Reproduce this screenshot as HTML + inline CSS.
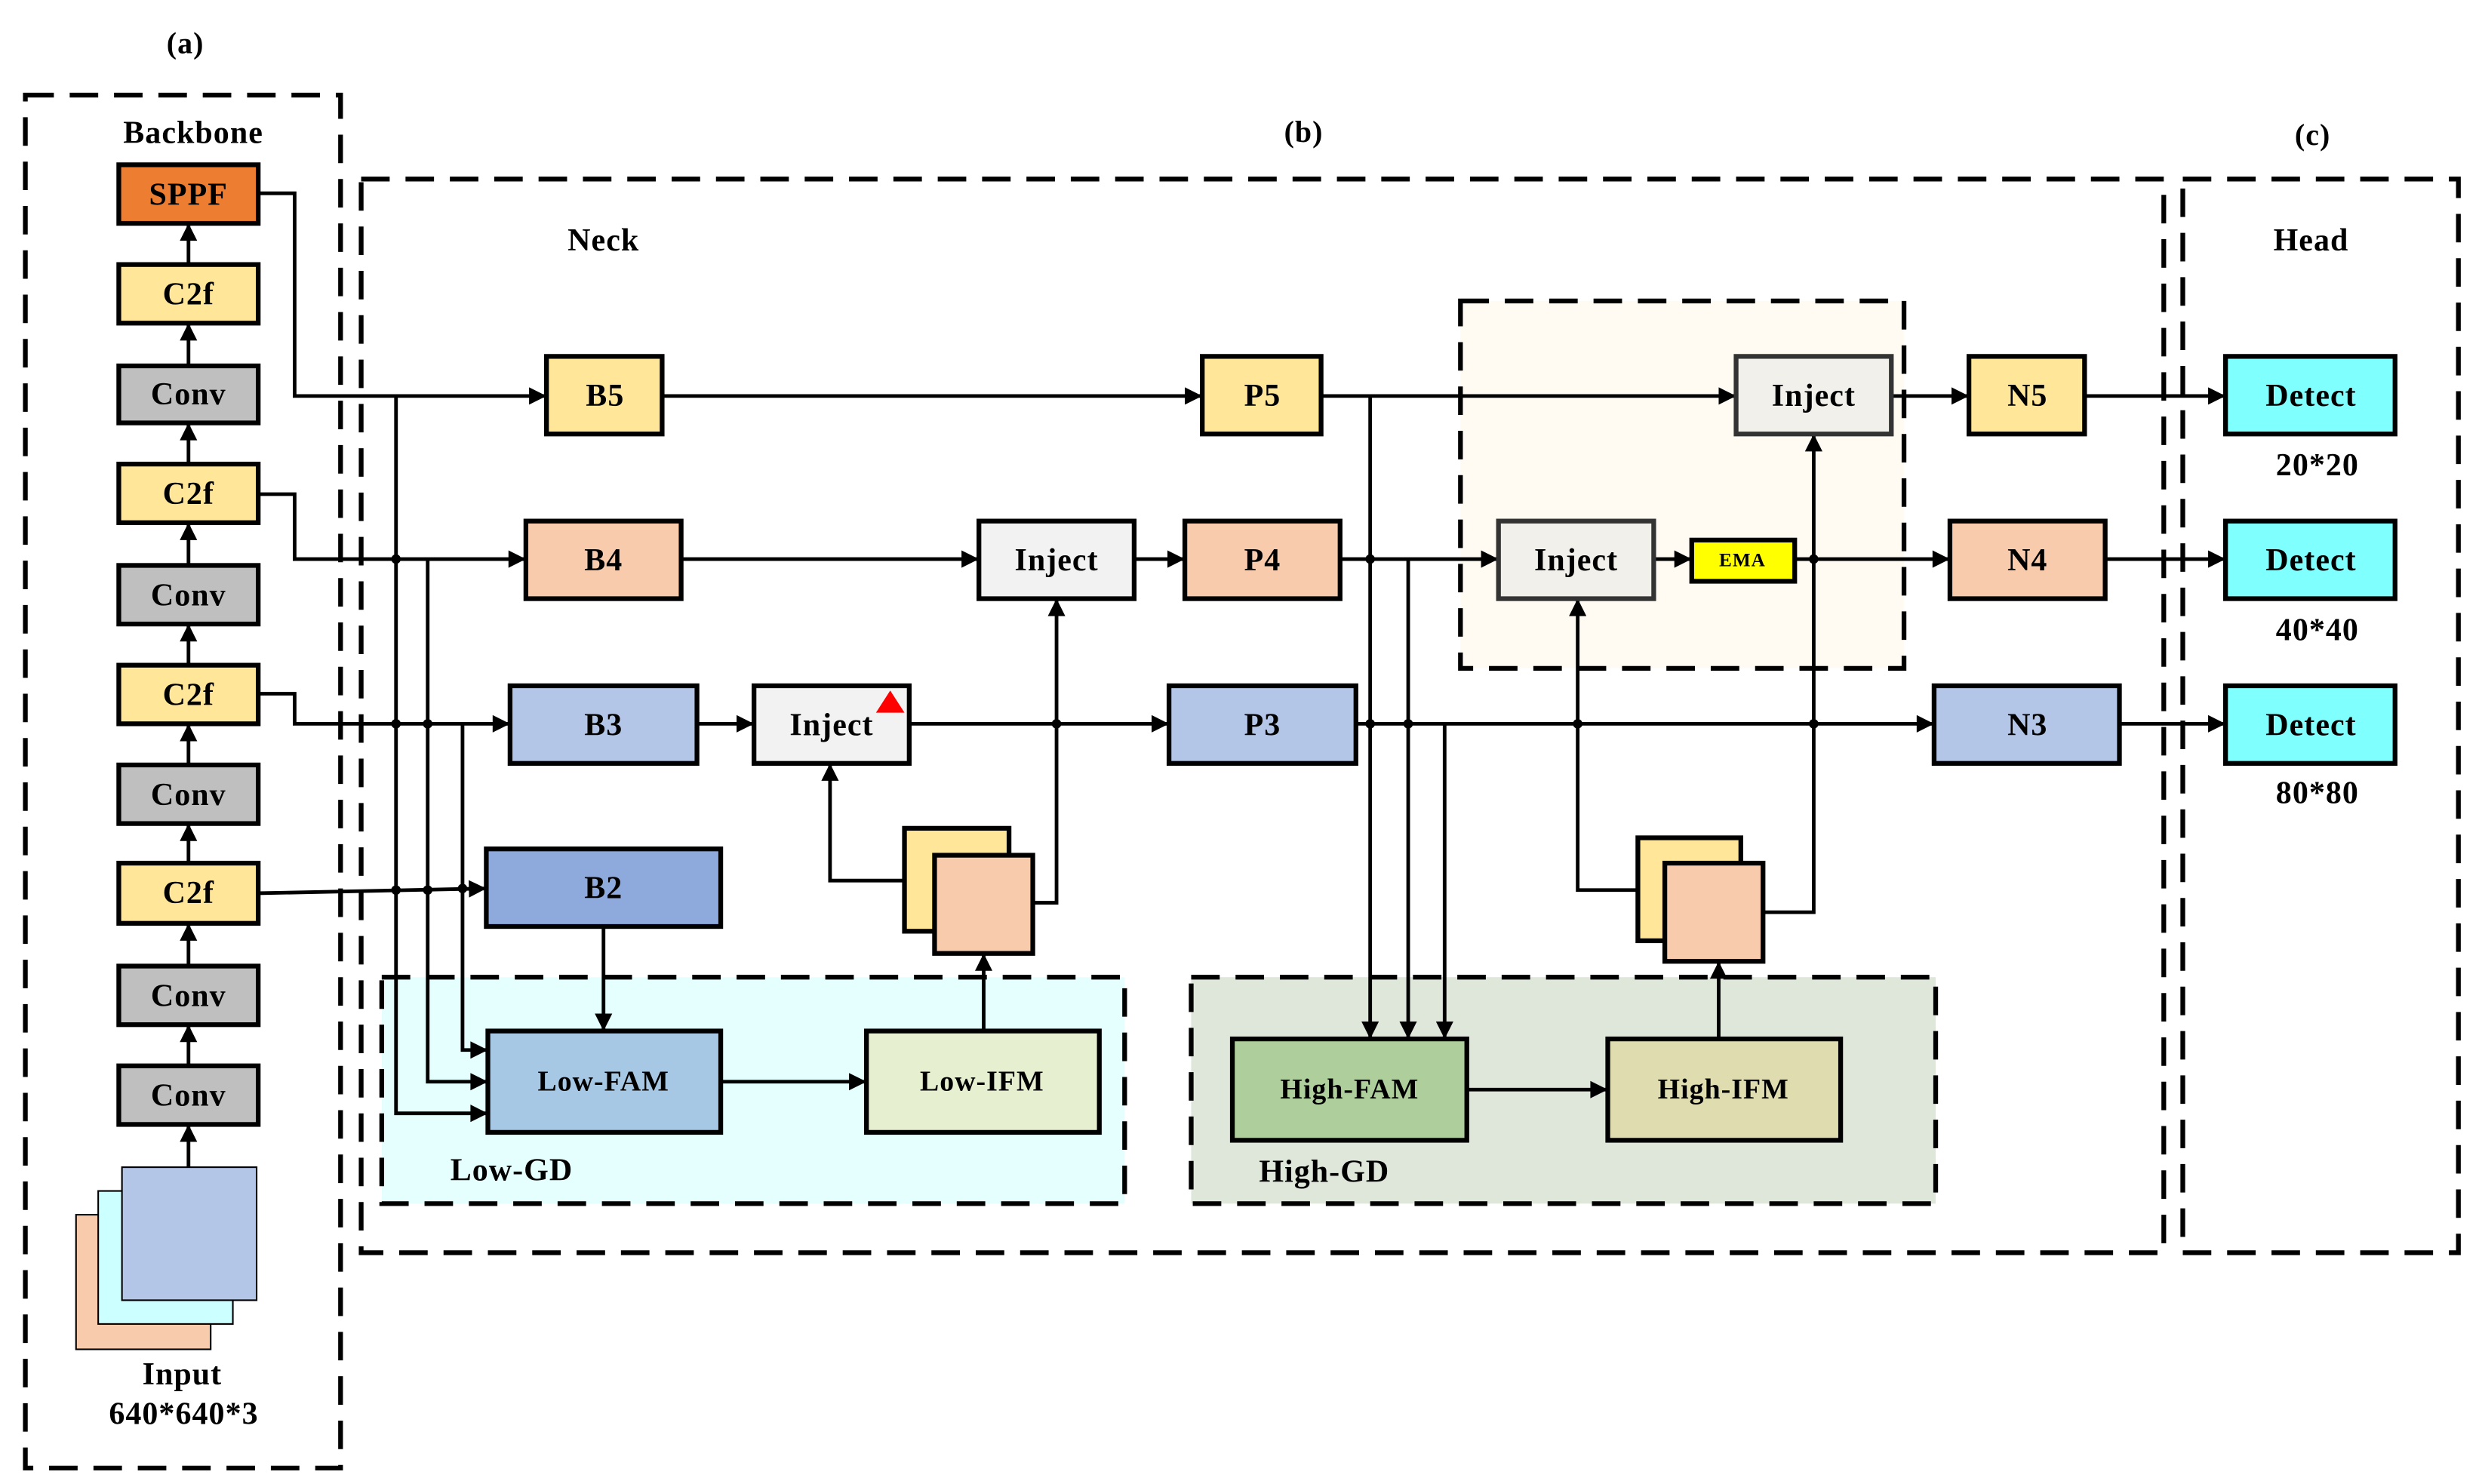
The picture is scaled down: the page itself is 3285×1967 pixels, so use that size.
<!DOCTYPE html>
<html><head><meta charset="utf-8"><style>html,body{margin:0;padding:0;background:#fff}svg{display:block}</style></head>
<body>
<svg xmlns="http://www.w3.org/2000/svg" width="3285" height="1967" viewBox="0 0 1565 937">
<defs>
<marker id="ar" viewBox="0 0 10 10" refX="10" refY="5" markerWidth="12" markerHeight="11" orient="auto" markerUnits="userSpaceOnUse"><path d="M0,0L10,5L0,10z" fill="#000"/></marker>
</defs>
<style>
text{font-family:"Liberation Serif",serif;font-weight:bold;text-anchor:middle;dominant-baseline:central;fill:#000;letter-spacing:0.5px}
.b{stroke:#000;stroke-width:3}
.l{stroke:#000;stroke-width:2.3;fill:none}
.d{stroke:#000;stroke-width:3;stroke-dasharray:18 10}
</style>
<!-- dashed regions -->
<rect x="241" y="617" width="469" height="143" style="fill:#E5FFFF" class="d"/>
<rect x="752" y="617" width="470" height="143" style="fill:#DFE6DA" class="d"/>
<rect x="922" y="190" width="280" height="232" style="fill:#FFFBF3" class="d"/>
<rect x="16" y="60" width="199" height="867" style="fill:none" class="d"/>
<rect x="228" y="113" width="1138" height="678" style="fill:none" class="d"/>
<rect x="1378" y="113" width="174" height="678" style="fill:none" class="d"/>
<text x="117" y="27" font-size="19">(a)</text>
<text x="823" y="83" font-size="19">(b)</text>
<text x="1460" y="85" font-size="19">(c)</text>
<text x="122" y="84" font-size="20">Backbone</text>
<text x="381" y="152" font-size="20">Neck</text>
<text x="1459" y="152" font-size="20">Head</text>
<!-- input -->
<rect x="48" y="767" width="85" height="85" fill="#F8CBAD" stroke="#000" stroke-width="1"/>
<rect x="62" y="752" width="85" height="84" fill="#CCFFFF" stroke="#000" stroke-width="1"/>
<rect x="77" y="737" width="85" height="84" fill="#B4C6E7" stroke="#000" stroke-width="1"/>
<text x="115" y="868" font-size="20">Input</text>
<text x="116" y="893" font-size="20">640*640*3</text>
<!-- backbone arrows -->
<g class="l" marker-end="url(#ar)">
<path d="M119,737V710"/><path d="M119,673V647"/><path d="M119,610V583"/><path d="M119,545V520"/><path d="M119,483V457"/><path d="M119,420V394"/><path d="M119,357V330"/><path d="M119,293V267"/><path d="M119,231V204"/><path d="M119,167V141"/>
</g>
<g class="b">
<rect x="75" y="104" width="88" height="37" fill="#ED7D31"/>
<rect x="75" y="167" width="88" height="37" fill="#FFE699"/>
<rect x="75" y="231" width="88" height="36" fill="#BFBFBF"/>
<rect x="75" y="293" width="88" height="37" fill="#FFE699"/>
<rect x="75" y="357" width="88" height="37" fill="#BFBFBF"/>
<rect x="75" y="420" width="88" height="37" fill="#FFE699"/>
<rect x="75" y="483" width="88" height="37" fill="#BFBFBF"/>
<rect x="75" y="545" width="88" height="38" fill="#FFE699"/>
<rect x="75" y="610" width="88" height="37" fill="#BFBFBF"/>
<rect x="75" y="673" width="88" height="37" fill="#BFBFBF"/>
</g>
<g font-size="20">
<text x="119" y="123">SPPF</text><text x="119" y="186">C2f</text><text x="119" y="249">Conv</text><text x="119" y="312">C2f</text><text x="119" y="376">Conv</text><text x="119" y="439">C2f</text><text x="119" y="502">Conv</text><text x="119" y="564">C2f</text><text x="119" y="629">Conv</text><text x="119" y="692">Conv</text>
</g>
<!-- connectors -->
<g class="l" marker-end="url(#ar)">
<path d="M163,122H186V250H345"/>
<path d="M163,312H186V353H332"/>
<path d="M163,438H186V457H322"/>
<path d="M163,564L307,561"/>
<path d="M250,250V703H308"/>
<path d="M270,353V683H308"/>
<path d="M292,457V663H308"/>
<path d="M381,585V651"/>
<path d="M455,683H547"/>
<path d="M621,651V602"/>
<path d="M571,556H524V482"/>
<path d="M652,570H667V378"/>
<path d="M440,457H476"/>
<path d="M574,457H738"/>
<path d="M430,353H618"/>
<path d="M716,353H748"/>
<path d="M418,250H759"/>
<path d="M834,250H1096"/>
<path d="M846,353H946"/>
<path d="M1044,353H1068"/>
<path d="M1133,353H1231"/>
<path d="M1194,250H1243"/>
<path d="M856,457H1221"/>
<path d="M865,250V656"/>
<path d="M889,353V656"/>
<path d="M912,457V656"/>
<path d="M1034,562H996V378"/>
<path d="M1113,576H1145V274"/>
<path d="M926,688H1015"/>
<path d="M1085,656V607"/>
<path d="M1316,250H1405"/>
<path d="M1329,353H1405"/>
<path d="M1338,457H1405"/>
</g>
<g fill="#000">
<circle cx="250" cy="353" r="3"/><circle cx="250" cy="457" r="3"/><circle cx="270" cy="457" r="3"/><circle cx="250" cy="562" r="3"/><circle cx="270" cy="562" r="3"/><circle cx="292" cy="561" r="3"/>
<circle cx="667" cy="457" r="3"/><circle cx="865" cy="353" r="3"/><circle cx="865" cy="457" r="3"/><circle cx="889" cy="457" r="3"/><circle cx="996" cy="457" r="3"/><circle cx="1145" cy="353" r="3"/><circle cx="1145" cy="457" r="3"/>
</g>
<!-- neck boxes -->
<g class="b">
<rect x="345" y="225" width="73" height="49" fill="#FFE699"/>
<rect x="332" y="329" width="98" height="49" fill="#F8CBAD"/>
<rect x="322" y="433" width="118" height="49" fill="#B4C6E7"/>
<rect x="307" y="536" width="148" height="49" fill="#8EA9DB"/>
<rect x="476" y="433" width="98" height="49" fill="#F2F2F2"/>
<rect x="618" y="329" width="98" height="49" fill="#F2F2F2"/>
<rect x="759" y="225" width="75" height="49" fill="#FFE699"/>
<rect x="748" y="329" width="98" height="49" fill="#F8CBAD"/>
<rect x="738" y="433" width="118" height="49" fill="#B4C6E7"/>
<rect x="1096" y="225" width="98" height="49" fill="#F2F0EB" stroke="#333"/>
<rect x="946" y="329" width="98" height="49" fill="#F2F0EB" stroke="#333"/>
<rect x="1068" y="341" width="65" height="26" fill="#FFFF00"/>
<rect x="1243" y="225" width="73" height="49" fill="#FFE699"/>
<rect x="1231" y="329" width="98" height="49" fill="#F8CBAD"/>
<rect x="1221" y="433" width="117" height="49" fill="#B4C6E7"/>
<rect x="1405" y="225" width="107" height="49" fill="#80FFFF"/>
<rect x="1405" y="329" width="107" height="49" fill="#80FFFF"/>
<rect x="1405" y="433" width="107" height="49" fill="#80FFFF"/>
<rect x="308" y="651" width="147" height="64" fill="#A6C8E5"/>
<rect x="547" y="651" width="147" height="64" fill="#E6F0D0"/>
<rect x="778" y="656" width="148" height="64" fill="#AECF9C"/>
<rect x="1015" y="656" width="147" height="64" fill="#DFDCB0"/>
<rect x="571" y="523" width="66" height="65" fill="#FFE699"/>
<rect x="590" y="540" width="62" height="62" fill="#F8CBAD"/>
<rect x="1034" y="529" width="65" height="65" fill="#FFE699"/>
<rect x="1051" y="545" width="62" height="62" fill="#F8CBAD"/>
</g>
<path d="M553,450L562,436L571,450z" fill="#f00"/>
<g font-size="20">
<text x="382" y="250">B5</text><text x="381" y="354">B4</text><text x="381" y="458">B3</text><text x="381" y="561">B2</text>
<text x="525" y="458">Inject</text><text x="667" y="354">Inject</text>
<text x="797" y="250">P5</text><text x="797" y="354">P4</text><text x="797" y="458">P3</text>
<text x="1145" y="250" fill="#333">Inject</text><text x="995" y="354" fill="#333">Inject</text>
<text x="1280" y="250">N5</text><text x="1280" y="354">N4</text><text x="1280" y="458">N3</text>
<text x="1459" y="250">Detect</text><text x="1459" y="354">Detect</text><text x="1459" y="458">Detect</text>
<text x="1463" y="294">20*20</text><text x="1463" y="398">40*40</text><text x="1463" y="501">80*80</text>
<text x="381" y="683" font-size="18">Low-FAM</text><text x="620" y="683" font-size="18">Low-IFM</text>
<text x="852" y="688" font-size="18">High-FAM</text><text x="1088" y="688" font-size="18">High-IFM</text>
<text x="323" y="739">Low-GD</text><text x="836" y="740">High-GD</text>
</g>
<text x="1100" y="354" font-size="12">EMA</text>
</svg>
</body></html>
